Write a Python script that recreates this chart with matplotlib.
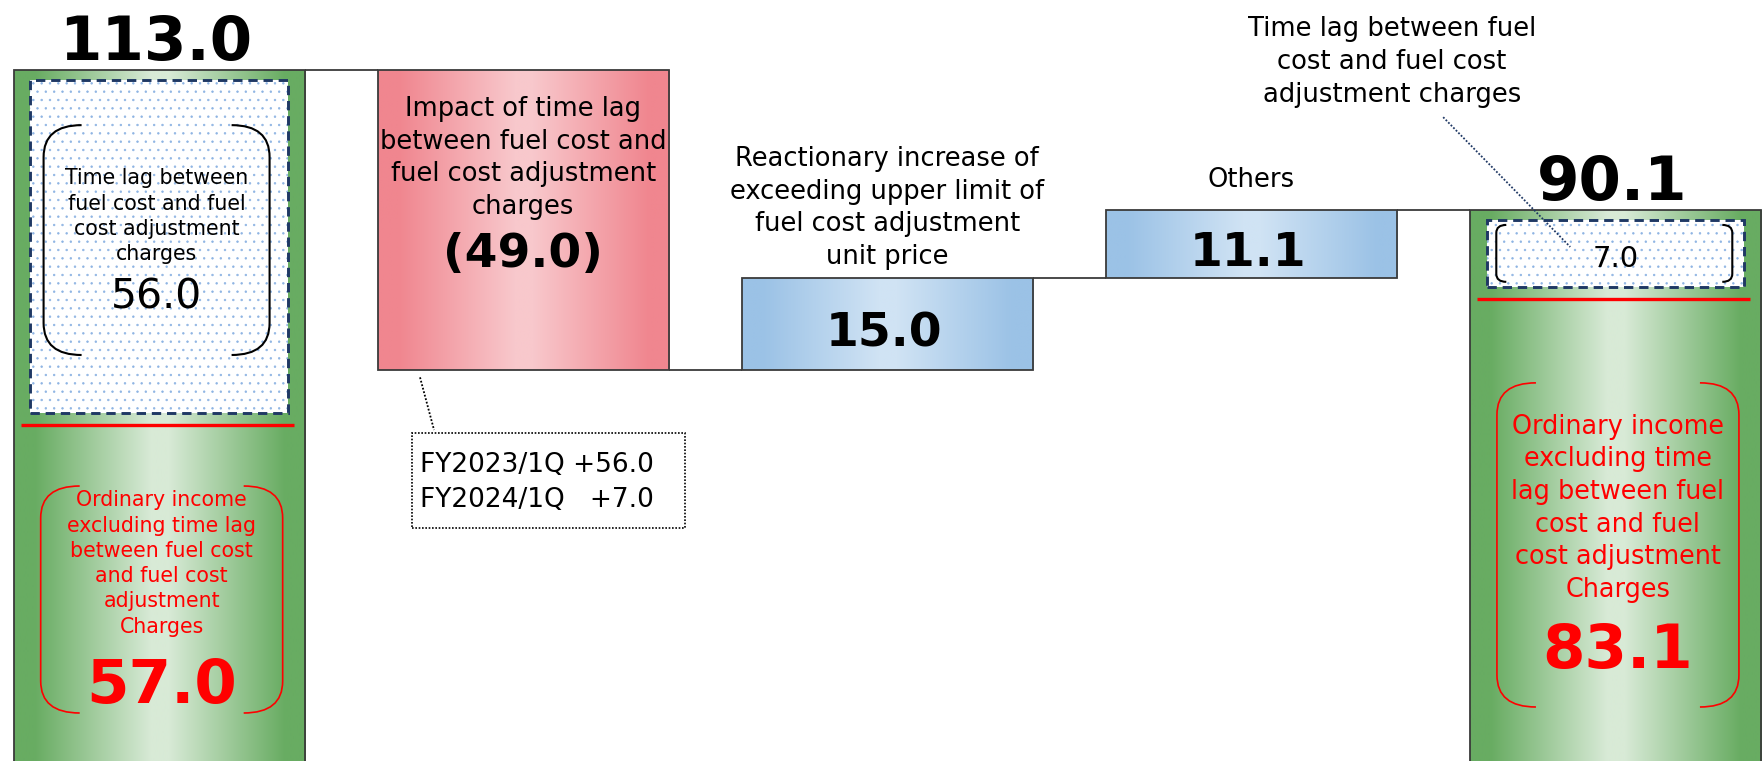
import numpy as np
import matplotlib.pyplot as plt
from matplotlib.colors import LinearSegmentedColormap
from matplotlib.patches import Rectangle, PathPatch
from matplotlib.path import Path

plt.rcParams['font.family'] = ['DejaVu Sans']
plt.rcParams['hatch.linewidth'] = 0.5

# ---- data ----
steps = ['FY2023/1Q', 'Impact of time lag', 'Reactionary increase', 'Others', 'FY2024/1Q']
start_total = 113.0
changes = [-49.0, 15.0, 11.1]
end_total = 90.1
time_lag = [56.0, 7.0]
excl_lag = [57.0, 83.1]
change_labels = [
    'Impact of time lag\nbetween fuel cost and\nfuel cost adjustment\ncharges',
    'Reactionary increase of\nexceeding upper limit of\nfuel cost adjustment\nunit price',
    'Others',
]
lag_label = 'Time lag between\nfuel cost and fuel\ncost adjustment\ncharges'
lag_label_right = 'Time lag between fuel\ncost and fuel cost\nadjustment charges'
excl_labels = [
    'Ordinary income\nexcluding time lag\nbetween fuel cost\nand fuel cost\nadjustment\nCharges',
    'Ordinary income\nexcluding time\nlag between fuel\ncost and fuel\ncost adjustment\nCharges',
]
callout_lines = ['FY2023/1Q +56.0', 'FY2024/1Q   +7.0']


def band_cmap(edge, mid):
    return LinearSegmentedColormap.from_list(
        '', [(0, edge), (0.07, edge), (0.47, mid), (0.53, mid), (0.93, edge), (1, edge)])


GREEN = band_cmap('#68AC62', '#D8EAD6')
RED = band_cmap('#F0868F', '#F8C8CC')
BLUE = band_cmap('#9BC2E6', '#D0E3F4')


def grad_fill(ax, bar, cmap):
    x0, y0 = bar.get_x(), bar.get_y()
    ax.imshow(np.linspace(0, 1, 256)[None, :], cmap=cmap, aspect='auto',
              extent=(x0, x0 + bar.get_width(), y0, y0 + bar.get_height()),
              origin='lower', interpolation='bilinear', zorder=1)


fig = plt.figure(figsize=(17.64, 7.61), dpi=100)
ax = fig.add_axes([0, 0, 1, 1])
XLIM = (-0.4371, 4.4082)
YLIM = (0.13, 124.44)
# data units per pixel, for the rounded brackets
sx = (XLIM[1] - XLIM[0]) / 1764
sy = (YLIM[1] - YLIM[0]) / 761


def brackets(xc, half_w, y_top, y_bot, cx, cy, color, lw):
    for side in (-1, 1):
        xs = xc + side * half_w * sx
        xe = xc + side * (half_w - cx) * sx
        verts = [(xe, y_top), (xs, y_top), (xs, y_top - cy * sy),
                 (xs, y_bot + cy * sy), (xs, y_bot), (xe, y_bot)]
        codes = [Path.MOVETO, Path.CURVE3, Path.CURVE3,
                 Path.LINETO, Path.CURVE3, Path.CURVE3]
        ax.add_patch(PathPatch(Path(verts, codes), fill=False, ec=color,
                               lw=lw, zorder=5))


x = np.arange(len(steps))
levels = start_total + np.cumsum([0] + changes)
width = 0.8
edge = '#3A3A3A'

totals = [start_total, end_total]
tot_x = [x[0], x[-1]]
tot_bars = ax.bar(tot_x, totals, width=width, bottom=0, facecolor='none',
                  edgecolor=edge, lw=1.3, zorder=3)
for b in tot_bars:
    grad_fill(ax, b, GREEN)

ch_bottom = np.minimum(levels[:-1], levels[1:])
ch_bars = ax.bar(x[1:-1], np.abs(changes), width=width, bottom=ch_bottom,
                 facecolor='none', edgecolor=edge, lw=1.3, zorder=3)
for b, c in zip(ch_bars, changes):
    grad_fill(ax, b, RED if c < 0 else BLUE)

# connectors between the steps
for i, lev in enumerate(levels):
    ax.hlines(lev, x[i] + width / 2, x[i + 1] - width / 2, color=edge, lw=1.3, zorder=3)

# big totals above the green bars
for xi, t in zip(tot_x, totals):
    ax.text(xi - 0.01, t + 1.7, f'{t:.1f}', ha='center', va='baseline',
            fontsize=44, fontweight='bold', zorder=6)

# step labels and values
ax.text(x[1], 98.6, change_labels[0], ha='center', va='center',
        fontsize=18.5, linespacing=1.33, zorder=6)
ax.text(x[1], ch_bottom[0] + 16.8, f'({abs(changes[0]):.1f})', ha='center',
        va='baseline', fontsize=34, fontweight='bold', zorder=6)
label_gap = [1.35, 2.75]
for j in (1, 2):
    top = ch_bottom[j] + abs(changes[j])
    ax.text(x[j + 1], top + label_gap[j - 1], change_labels[j], ha='center',
            va='bottom', fontsize=18.5, linespacing=1.33, zorder=6)
    mid = ch_bottom[j] + abs(changes[j]) / 2
    ax.text(x[j + 1] - 0.01, mid - 3.6, f'{changes[j]:.1f}', ha='center',
            va='baseline', fontsize=34, fontweight='bold', zorder=6)

# time-lag boxes inside the green bars
inset = 0.046
box_tops = [t - 1.6 for t in totals]
box_bots = [t - max(lag, 12.5) for t, lag in zip(totals, time_lag)]
for xi, bt, bb in zip(tot_x, box_tops, box_bots):
    x0 = xi - width / 2 + inset
    w = width - 2 * inset
    ax.add_patch(Rectangle((x0, bb), w, bt - bb, facecolor='white',
                           edgecolor='#8EB4E3', hatch='..', lw=0, zorder=2))
    ax.add_patch(Rectangle((x0, bb), w, bt - bb, facecolor='none',
                           edgecolor='#1F3864', lw=2.1, ls=(0, (3.2, 2.0)), zorder=4))
    ax.hlines(bb - 2.0, xi - width / 2 + 0.02, xi + width / 2 - 0.03,
              color='#FF0000', lw=2.4, zorder=4)

# left time-lag box content
ax.text(tot_x[0] - 0.007, 89.1, lag_label, ha='center', va='center',
        fontsize=14.8, linespacing=1.33, zorder=6)
ax.text(tot_x[0] - 0.007, excl_lag[0] + 17.1, f'{time_lag[0]:.1f}',
        ha='center', va='baseline', fontsize=29.5, zorder=6)
brackets(tot_x[0] - 0.007, 113, totals[0] - 9.0, excl_lag[0] + 9.45,
         38, 32, 'black', 1.5)

# right time-lag box content
ax.text(tot_x[1], 80.82, f'{time_lag[1]:.1f}', ha='center', va='baseline',
        fontsize=21, zorder=6)
brackets(tot_x[1] - 0.003, 118, box_tops[1] - 0.8, box_bots[1] + 0.8,
         10, 8, 'black', 1.5)
ax.text(3.386, 114.3, lag_label_right, ha='center', va='center',
        fontsize=18.6, linespacing=1.33, zorder=6)
ax.plot([3.527, 3.876], [105.3, 84.1], color='#1F3864', lw=1.3, ls=(0, (1, 1)),
        zorder=6)

# ordinary income excluding time lag (red)
excl_style = [(32.4, 9.6, 14.8, 45.05, 7.97), (41.4, 15.3, 18.4, 61.9, 8.95)]
for xi, val, lab, (ly, ny, fs, ptop, pbot) in zip(tot_x, excl_lag, excl_labels, excl_style):
    ax.text(xi + 0.007, ly, lab, ha='center', va='center', color='#FF0000',
            fontsize=fs, linespacing=1.33, zorder=6)
    ax.text(xi + 0.007, ny, f'{val:.1f}', ha='center', va='baseline',
            color='#FF0000', fontsize=44, fontweight='bold', zorder=6)
    brackets(xi + 0.007, 121, ptop, pbot, 39, 32, '#FF0000', 1.2)

# callout for the time-lag impact
ax.plot([0.7166, 0.7551], [62.8, 54.2], color='black', lw=1.3, ls=(0, (1, 1)), zorder=6)
ax.add_patch(Rectangle((0.6946, 38.2), 0.75, 15.5, facecolor='white',
                       edgecolor='black', lw=1.2, ls=(0, (1, 1)), zorder=5))
ax.text(0.7166, 45.6, '\n'.join(callout_lines), ha='left', va='center',
        fontsize=19, linespacing=1.43, zorder=6)

ax.set_xlim(*XLIM)
ax.set_ylim(*YLIM)
ax.axis('off')

fig.savefig('out.png', dpi=100)
